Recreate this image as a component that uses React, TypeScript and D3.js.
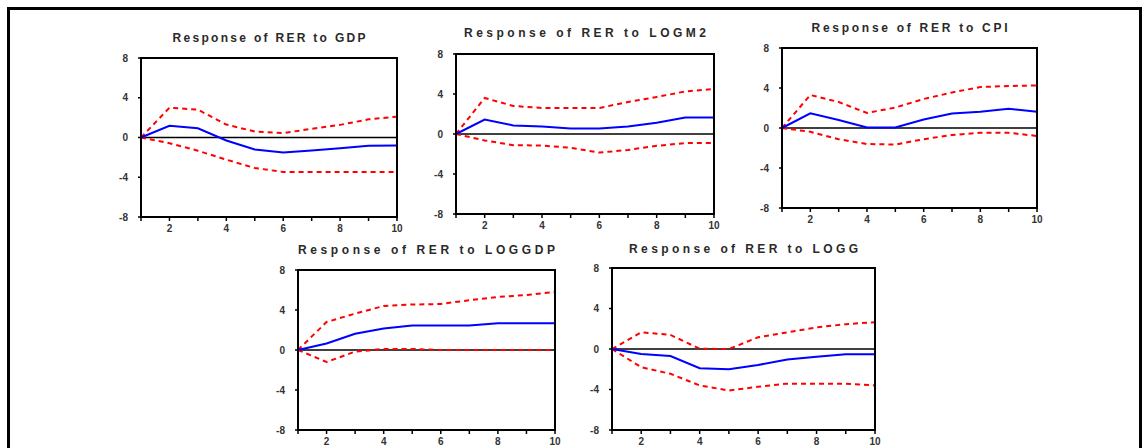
import React from 'react';
import * as d3 from 'd3';

// periods after the shock
const periods = [1, 2, 3, 4, 5, 6, 7, 8, 9, 10];
const yTicks = [8, 4, 0, -4, -8];
const xMajor = [2, 4, 6, 8, 10];

// Response of RER to GDP
const gdpResp = [0, 1.17, 0.93, -0.3, -1.2, -1.5, -1.3, -1.07, -0.83, -0.8];
const gdpUpper = [0, 3.0, 2.8, 1.3, 0.6, 0.45, 0.87, 1.27, 1.83, 2.1];
const gdpLower = [0, -0.57, -1.33, -2.23, -3.07, -3.47, -3.47, -3.47, -3.47, -3.47];

// Response of RER to LOGM2
const m2Resp = [0, 1.44, 0.86, 0.74, 0.55, 0.55, 0.74, 1.12, 1.66, 1.66];
const m2Upper = [0, 3.6, 2.8, 2.6, 2.6, 2.6, 3.2, 3.7, 4.26, 4.5];
const m2Lower = [0, -0.64, -1.12, -1.15, -1.38, -1.86, -1.6, -1.18, -0.9, -0.9];

// Response of RER to CPI
const cpiResp = [0, 1.47, 0.8, 0.05, 0.05, 0.85, 1.44, 1.63, 1.92, 1.63];
const cpiUpper = [0, 3.3, 2.6, 1.5, 2.05, 2.9, 3.55, 4.1, 4.2, 4.25];
const cpiLower = [0, -0.38, -1.12, -1.6, -1.66, -1.12, -0.7, -0.48, -0.48, -0.8];

// Response of RER to LOGGDP
const loggdpResp = [0, 0.65, 1.63, 2.15, 2.44, 2.44, 2.44, 2.67, 2.67, 2.67];
const loggdpUpper = [0, 2.8, 3.64, 4.4, 4.55, 4.6, 4.98, 5.3, 5.5, 5.8];
const loggdpLower = [0, -1.2, -0.16, 0.1, 0.1, 0, 0, 0, 0, 0];

// Response of RER to LOGG
const loggResp = [0, -0.5, -0.7, -1.9, -2.0, -1.58, -1.03, -0.77, -0.52, -0.52];
const loggUpper = [0, 1.65, 1.39, 0.03, 0, 1.16, 1.65, 2.13, 2.45, 2.65];
const loggLower = [0, -1.8, -2.45, -3.6, -4.1, -3.74, -3.42, -3.42, -3.42, -3.6];

const panels = [
  { title: 'Response of RER to GDP', resp: gdpResp, upper: gdpUpper, lower: gdpLower,
    left: 141, top: 58, right: 397, bottom: 217, titleY: 42, titleW: 193 },
  { title: 'Response of RER to LOGM2', resp: m2Resp, upper: m2Upper, lower: m2Lower,
    left: 456, top: 54, right: 714, bottom: 214, titleY: 37, titleW: 242 },
  { title: 'Response of RER to CPI', resp: cpiResp, upper: cpiUpper, lower: cpiLower,
    left: 782, top: 48, right: 1037, bottom: 208, titleY: 32, titleW: 196 },
  { title: 'Response of RER to LOGGDP', resp: loggdpResp, upper: loggdpUpper, lower: loggdpLower,
    left: 298, top: 270, right: 555, bottom: 430, titleY: 254, titleW: 257 },
  { title: 'Response of RER to LOGG', resp: loggResp, upper: loggUpper, lower: loggLower,
    left: 612, top: 268, right: 875, bottom: 430, titleY: 253, titleW: 229 },
];

type Panel = typeof panels[number];

function Chart({ p }: { p: Panel }) {
  const x = d3.scaleLinear().domain([1, 10]).range([p.left, p.right]);
  const y = d3.scaleLinear().domain([-8, 8]).range([p.bottom, p.top]);
  const line = d3.line<number>()
    .x((d, i) => x(periods[i]))
    .y((d) => y(d));
  const font = 'Arial, "Liberation Sans", sans-serif';

  return (
    <g>
      <text x={(p.left + p.right) / 2} y={p.titleY} textAnchor="middle" fontFamily={font}
        fontSize={12} fontWeight="bold" fill="#2a2a2a" textLength={p.titleW} lengthAdjust="spacing">
        {p.title}
      </text>
      <line x1={p.left} x2={p.right} y1={y(0)} y2={y(0)} stroke="#000" strokeWidth={1.6} />
      <path d={line(p.upper) || ''} fill="none" stroke="#ff0000" strokeWidth={2} strokeDasharray="5,4" />
      <path d={line(p.lower) || ''} fill="none" stroke="#ff0000" strokeWidth={2} strokeDasharray="5,4" />
      <path d={line(p.resp) || ''} fill="none" stroke="#0000ff" strokeWidth={2} />
      <rect x={p.left} y={p.top} width={p.right - p.left} height={p.bottom - p.top}
        fill="none" stroke="#000" strokeWidth={2} />
      {yTicks.map((t) => (
        <g key={'y' + t}>
          <line x1={p.left - 3} x2={p.left} y1={y(t)} y2={y(t)} stroke="#000" strokeWidth={1.5} />
          <text x={p.left - 13} y={y(t) + 3.5} textAnchor="end" fontFamily={font} fontSize={10}
            fontWeight="bold" fill="#333">{t}</text>
        </g>
      ))}
      {periods.map((t) => (
        <line key={'x' + t} x1={x(t)} x2={x(t)} y1={p.bottom} y2={p.bottom + 4}
          stroke="#000" strokeWidth={1.5} />
      ))}
      {xMajor.map((t) => (
        <text key={'xl' + t} x={x(t)} y={p.bottom + 15} textAnchor="middle" fontFamily={font}
          fontSize={10} fontWeight="bold" fill="#333">{t}</text>
      ))}
    </g>
  );
}

export default function App() {
  return (
    <svg width={1144} height={448} style={{ position: 'absolute', left: 0, top: 0, background: '#fff' }}>
      <rect x={0} y={0} width={1144} height={448} fill="#fff" />
      <rect x={8.5} y={8.5} width={1132} height={470} fill="none" stroke="#000" strokeWidth={3} />
      {panels.map((p) => <Chart key={p.title} p={p} />)}
    </svg>
  );
}
